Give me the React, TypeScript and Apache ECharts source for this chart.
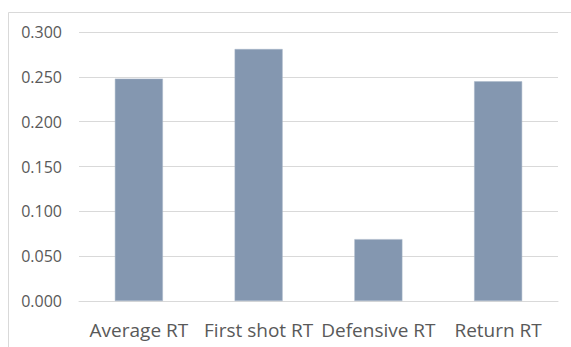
import React, { useEffect, useRef } from "react";
import * as echarts from "echarts";

const categories = ["Average RT", "First shot RT", "Defensive RT", "Return RT"];
const values = [0.248, 0.281, 0.069, 0.245];
const yTicks = [0, 0.05, 0.1, 0.15, 0.2, 0.25, 0.3];

export default function App() {
  const ref = useRef<HTMLDivElement>(null);
  useEffect(() => {
    if (!ref.current) return;
    const chart = echarts.init(ref.current, null, { renderer: "svg" });
    chart.setOption({
      animation: false,
      backgroundColor: "#ffffff",
      graphic: [
        {
          type: "rect",
          shape: { x: 8.5, y: 12.5, width: 700, height: 500 },
          style: { fill: "none", stroke: "#d9d9d9", lineWidth: 1 },
          silent: true,
          z: -1,
        },
      ],
      grid: { left: 79, right: 13, top: 32, bottom: 46 },
      xAxis: {
        type: "category",
        data: categories,
        axisTick: { show: false },
        axisLine: { show: true, lineStyle: { color: "#d9d9d9", width: 1 } },
        axisLabel: {
          color: "#595959",
          fontFamily: "Open Sans",
          fontSize: 19,
          margin: 19,
          interval: 0,
        },
      },
      yAxis: {
        type: "value",
        min: 0,
        max: yTicks[yTicks.length - 1],
        interval: 0.05,
        axisLine: { show: false },
        axisTick: { show: false },
        splitLine: { lineStyle: { color: "#d9d9d9", width: 1 } },
        axisLabel: {
          color: "#595959",
          fontFamily: "Open Sans",
          fontSize: 16,
          margin: 17,
          formatter: (v: number) => v.toFixed(3),
        },
      },
      series: [
        {
          type: "bar",
          data: values,
          barWidth: 48,
          itemStyle: { color: "#8497b0", borderColor: "#a9b7c9", borderWidth: 0.5 },
        },
      ],
    });
    return () => chart.dispose();
  }, []);
  return (
    <div
      ref={ref}
      style={{ position: "fixed", left: 0, top: 0, width: 571, height: 347 }}
    />
  );
}
